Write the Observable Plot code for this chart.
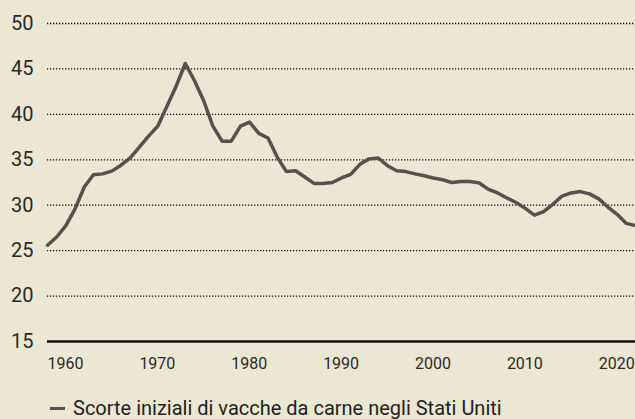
<!DOCTYPE html>
<html>
<head>
<meta charset="utf-8">
<script src="https://cdn.jsdelivr.net/npm/d3@7"></script>
<script src="https://cdn.jsdelivr.net/npm/@observablehq/plot@0.6"></script>
<style>
  html, body { margin: 0; padding: 0; background: #ece7d2; }
  body { width: 635px; height: 419px; overflow: hidden; font-family: Roboto, "Noto Sans", sans-serif; }
  #legend { position: absolute; left: 50px; top: 397px; display: flex; align-items: center; font-size: 20px; line-height: 23px; color: #222; }
  #legend .sw { width: 15px; height: 3.5px; background: #57504d; margin-right: 8px; }
</style>
</head>
<body>
<div id="chart"></div>
<div id="legend"><span class="sw"></span><span id="legendText"></span></div>
<script>
const years = d3.range(1960, 2025);
const beefCows = [
  25.6, 26.5, 27.75, 29.6, 32.0, 33.35, 33.45, 33.75, 34.4, 35.2,
  36.4, 37.6, 38.7, 40.9, 43.1, 45.6, 43.7, 41.5, 38.7, 37.05,
  37.05, 38.7, 39.15, 37.9, 37.4, 35.3, 33.7, 33.8, 33.1, 32.4,
  32.4, 32.5, 33.0, 33.4, 34.5, 35.1, 35.2, 34.35, 33.8, 33.7,
  33.45, 33.25, 33.0, 32.8, 32.5, 32.6, 32.6, 32.45, 31.75, 31.35,
  30.8, 30.3, 29.65, 28.9, 29.3, 30.1, 31.0, 31.35, 31.5, 31.25,
  30.7, 29.8, 29.0, 28.0, 27.75
];
const yTicks = [15, 20, 25, 30, 35, 40, 45, 50];
const xTicks = [1960, 1970, 1980, 1990, 2000, 2010, 2020];
const seriesLabel = "Scorte iniziali di vacche da carne negli Stati Uniti";

const data = years.map((y, i) => ({year: y, value: beefCows[i]}));

const chart = Plot.plot({
  width: 635,
  height: 385,
  marginLeft: 47,
  marginRight: 0,
  marginTop: 23,
  marginBottom: 44,
  style: {background: "#ece7d2", fontFamily: "Roboto, 'Noto Sans', sans-serif", color: "#222"},
  x: {domain: [1960, 2024], ticks: xTicks, tickFormat: d => String(d), label: null},
  y: {domain: [15, 50], ticks: yTicks, label: null},
  marks: [
    Plot.ruleY(yTicks.filter(d => d !== 15), {stroke: "#111", strokeWidth: 1.3, strokeDasharray: "1.3,1.7"}),
    Plot.ruleY([15], {stroke: "#111", strokeWidth: 2.7}),
    Plot.axisY({ticks: yTicks, tickSize: 0, tickPadding: 14, fontSize: 20, fill: "#2a2a2a", label: null}),
    Plot.axisX({ticks: xTicks, tickSize: 0, tickPadding: 16, fontSize: 16, textAnchor: "start", fill: "#2a2a2a", tickFormat: d => String(d), label: null}),
    Plot.lineY(data, {x: "year", y: "value", stroke: "#57504d", strokeWidth: 3.5, strokeLinejoin: "round"})
  ]
});
document.getElementById("chart").appendChild(chart);
document.getElementById("legendText").textContent = seriesLabel;
</script>
</body>
</html>
